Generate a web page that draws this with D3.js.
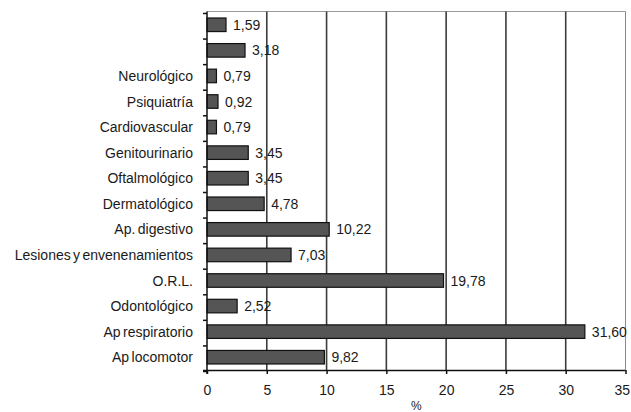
<!DOCTYPE html>
<html>
<head>
<meta charset="utf-8">
<script src="https://cdn.jsdelivr.net/npm/d3@7"></script>
<style>
  html, body { margin: 0; padding: 0; background: #fff; }
  svg { display: block; }
  text { font-family: "Liberation Sans", Arial, sans-serif; fill: #1a1a1a; }
</style>
</head>
<body>
<svg id="chart" width="631" height="412"></svg>
<script>
// Percentage of consultations by group (first two groups have no label)
const categories = [
  "", "", "Neurológico", "Psiquiatría", "Cardiovascular", "Genitourinario",
  "Oftalmológico", "Dermatológico", "Ap. digestivo", "Lesiones y envenenamientos",
  "O.R.L.", "Odontológico", "Ap respiratorio", "Ap locomotor"
];
const values = [1.59, 3.18, 0.79, 0.92, 0.79, 3.45, 3.45, 4.78, 10.22, 7.03, 19.78, 2.52, 31.60, 9.82];
const xTicks = [0, 5, 10, 15, 20, 25, 30, 35];
const xTitle = "%";

const fmt = v => v.toFixed(2).replace(".", ",");

const svg = d3.select("#chart");
const margin = { left: 207, right: 5, top: 12, bottom: 42 };
const W = 631, H = 412;
const x0 = margin.left, x1 = W - margin.right;
const y0 = margin.top, y1 = H - margin.bottom;
const fontSize = "14px";

const x = d3.scaleLinear().domain([0, 35]).range([x0, x1 - 0.5]);
const y = d3.scaleBand().domain(d3.range(categories.length)).range([y0, y1]).paddingInner(0.47).paddingOuter(0.235);
const yBounds = d3.scaleBand().domain(d3.range(categories.length)).range([y0, y1]);

// top frame line
svg.append("line").attr("x1", x0).attr("x2", x(35)).attr("y1", y0 - 0.5).attr("y2", y0 - 0.5)
  .attr("stroke", "#9a9a9a").attr("stroke-width", 1);

// vertical gridlines
svg.append("g").selectAll("line").data(xTicks.filter(t => t > 0)).join("line")
  .attr("x1", d => x(d)).attr("x2", d => x(d))
  .attr("y1", y0 - 0.5).attr("y2", y1)
  .attr("stroke", d => d === 35 ? "#8a8a8a" : "#3c3c3c")
  .attr("stroke-width", d => d === 35 ? 1 : 1.6);

// bars
svg.append("g").selectAll("rect").data(values).join("rect")
  .attr("x", x(0))
  .attr("y", (d, i) => y(i))
  .attr("width", d => x(d) - x(0))
  .attr("height", y.bandwidth())
  .attr("fill", "#555555")
  .attr("stroke", "#111")
  .attr("stroke-width", 1.2);

// value labels
svg.append("g").selectAll("text").data(values).join("text")
  .attr("x", d => x(d) + 7)
  .attr("y", (d, i) => y(i) + y.bandwidth() / 2)
  .attr("dy", "0.36em")
  .attr("font-size", fontSize)
  .text(d => fmt(d));

// y axis with ticks at category boundaries
const yAxis = svg.append("g");
yAxis.append("line").attr("x1", x0).attr("x2", x0).attr("y1", y0 - 0.5).attr("y2", y1 + 4)
  .attr("stroke", "#111").attr("stroke-width", 1.5);
yAxis.selectAll("line.tick").data(d3.range(categories.length + 1)).join("line")
  .attr("class", "tick")
  .attr("x1", x0 - 4).attr("x2", x0)
  .attr("y1", i => y0 + i * yBounds.step() + 1.5).attr("y2", i => y0 + i * yBounds.step() + 1.5)
  .attr("stroke", "#111").attr("stroke-width", 1.5);
yAxis.selectAll("text").data(categories).join("text")
  .attr("x", x0 - 14)
  .attr("y", (d, i) => y(i) + y.bandwidth() / 2)
  .attr("dy", "0.36em")
  .attr("text-anchor", "end")
  .attr("font-size", fontSize)
  .attr("word-spacing", "-1.5px")
  .text(d => d);

// x axis
const xAxis = d3.axisBottom(x).tickValues(xTicks).tickSize(4).tickPadding(11).tickFormat(d3.format("d"));
const gx = svg.append("g").attr("transform", `translate(0,${y1})`).call(xAxis);
gx.select(".domain").attr("stroke", "#111").attr("stroke-width", 1.5).attr("d", `M${x0 - 4},0.5H${x(35)}`);
gx.selectAll(".tick line").attr("stroke", "#111").attr("stroke-width", 1.5);
gx.selectAll(".tick text").attr("font-size", fontSize).attr("font-family", "Liberation Sans, Arial, sans-serif").attr("fill", "#1a1a1a");
// keep the last tick label inside the page edge
gx.selectAll(".tick text").filter(d => d === 35).attr("x", 4).attr("text-anchor", "end");

svg.append("text")
  .attr("x", (x0 + x(35)) / 2)
  .attr("y", H - 2)
  .attr("text-anchor", "middle")
  .attr("font-size", "12px")
  .text(xTitle);
</script>
</body>
</html>
